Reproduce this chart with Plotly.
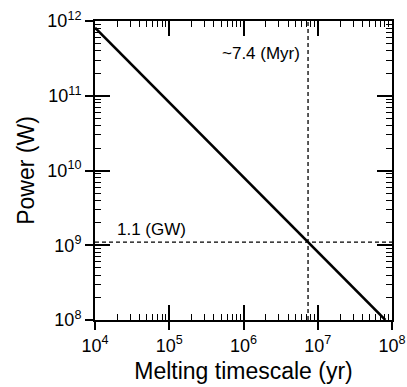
import numpy as np
import plotly.graph_objects as go

# ---- data ----
timescale_yr = [1e4, 8.14e7]          # melting timescale (yr)
power_w = [8.14e11, 1e8]             # power (W)
t_mark = 7.4e6                        # ~7.4 Myr
p_mark = 1.1e9                        # 1.1 GW
x_tick_vals = [1e4, 1e5, 1e6, 1e7, 1e8]
x_tick_text = ["10<sup>4</sup>", "10<sup>5</sup>", "10<sup>6</sup>", "10<sup>7</sup>", "10<sup>8</sup>"]
y_tick_vals = [1e8, 1e9, 1e10, 1e11, 1e12]
y_tick_text = ["10<sup>8</sup>", "10<sup>9</sup>", "10<sup>10</sup>", "10<sup>11</sup>", "10<sup>12</sup>"]

x_range = [1e4, 1e8]
y_range = [1e8, 1e12]

def minor_vals(lo, hi):
    vals = []
    e = int(np.log10(lo))
    while 10 ** e < hi:
        for k in range(2, 10):
            v = k * 10 ** e
            if lo < v < hi:
                vals.append(v)
        e += 1
    return vals

FONT = "Arial, Liberation Sans, sans-serif"

fig = go.Figure()
fig.add_trace(go.Scatter(x=timescale_yr, y=power_w, mode="lines",
                         line=dict(color="black", width=2.5), showlegend=False,
                         hoverinfo="skip"))
fig.add_trace(go.Scatter(x=[t_mark, t_mark], y=y_range, mode="lines",
                         line=dict(color="black", width=1.3, dash="4px,3px"),
                         xaxis="x2", yaxis="y2", showlegend=False, hoverinfo="skip"))
fig.add_trace(go.Scatter(x=x_range, y=[p_mark, p_mark], mode="lines",
                         line=dict(color="black", width=1.3, dash="4px,3px"),
                         xaxis="x2", yaxis="y2", showlegend=False, hoverinfo="skip"))

lx = [np.log10(x_range[0]), np.log10(x_range[1])]
ly = [np.log10(y_range[0]), np.log10(y_range[1])]

common = dict(type="log", showgrid=False, zeroline=False, showline=True,
              linecolor="black", linewidth=2, automargin=False)

fig.update_layout(
    width=407, height=387,
    margin=dict(l=95, r=15, t=21, b=67),
    paper_bgcolor="white", plot_bgcolor="white",
    font=dict(family=FONT, color="black"),
    xaxis=dict(**common, range=lx, ticks="outside", ticklen=8, tickwidth=1.5,
               tickcolor="black", tickvals=x_tick_vals, ticktext=x_tick_text,
               tickfont=dict(size=18, family=FONT), mirror=False,
               title=dict(text="Melting timescale (yr)", font=dict(size=23, family=FONT), standoff=8)),
    yaxis=dict(**common, range=ly, ticks="outside", ticklen=8, tickwidth=1.5,
               tickcolor="black", tickvals=y_tick_vals, ticktext=y_tick_text,
               tickfont=dict(size=18, family=FONT), mirror=False,
               title=dict(text="Power (W)", font=dict(size=23, family=FONT), standoff=6)),
    xaxis2=dict(**common, range=lx, overlaying="x", anchor="y2", side="bottom",
                ticks="inside", ticklen=15, tickwidth=1.5, tickcolor="black",
                tickvals=x_tick_vals, showticklabels=False, mirror="ticks",
                minor=dict(ticks="inside", ticklen=6, tickwidth=1.2, tickcolor="black",
                           tickvals=minor_vals(*x_range))),
    yaxis2=dict(**common, range=ly, overlaying="y", anchor="x2", side="left",
                ticks="inside", ticklen=15, tickwidth=1.5, tickcolor="black",
                tickvals=y_tick_vals, showticklabels=False, mirror="ticks",
                minor=dict(ticks="inside", ticklen=6, tickwidth=1.2, tickcolor="black",
                           tickvals=minor_vals(*y_range))),
    annotations=[
        dict(text="~7.4 (Myr)", x=np.log10(t_mark), y=11.56, xref="x", yref="y",
             xanchor="right", yanchor="middle", xshift=-6, showarrow=False,
             font=dict(size=17, family=FONT)),
        dict(text="1.1 (GW)", x=4.27, y=np.log10(p_mark), xref="x", yref="y",
             xanchor="left", yanchor="bottom", yshift=1, showarrow=False,
             font=dict(size=17, family=FONT)),
    ],
)

fig.write_html("out.html", config={"displayModeBar": False},
               post_script="document.body.style.margin='0';document.body.style.overflow='hidden';")
